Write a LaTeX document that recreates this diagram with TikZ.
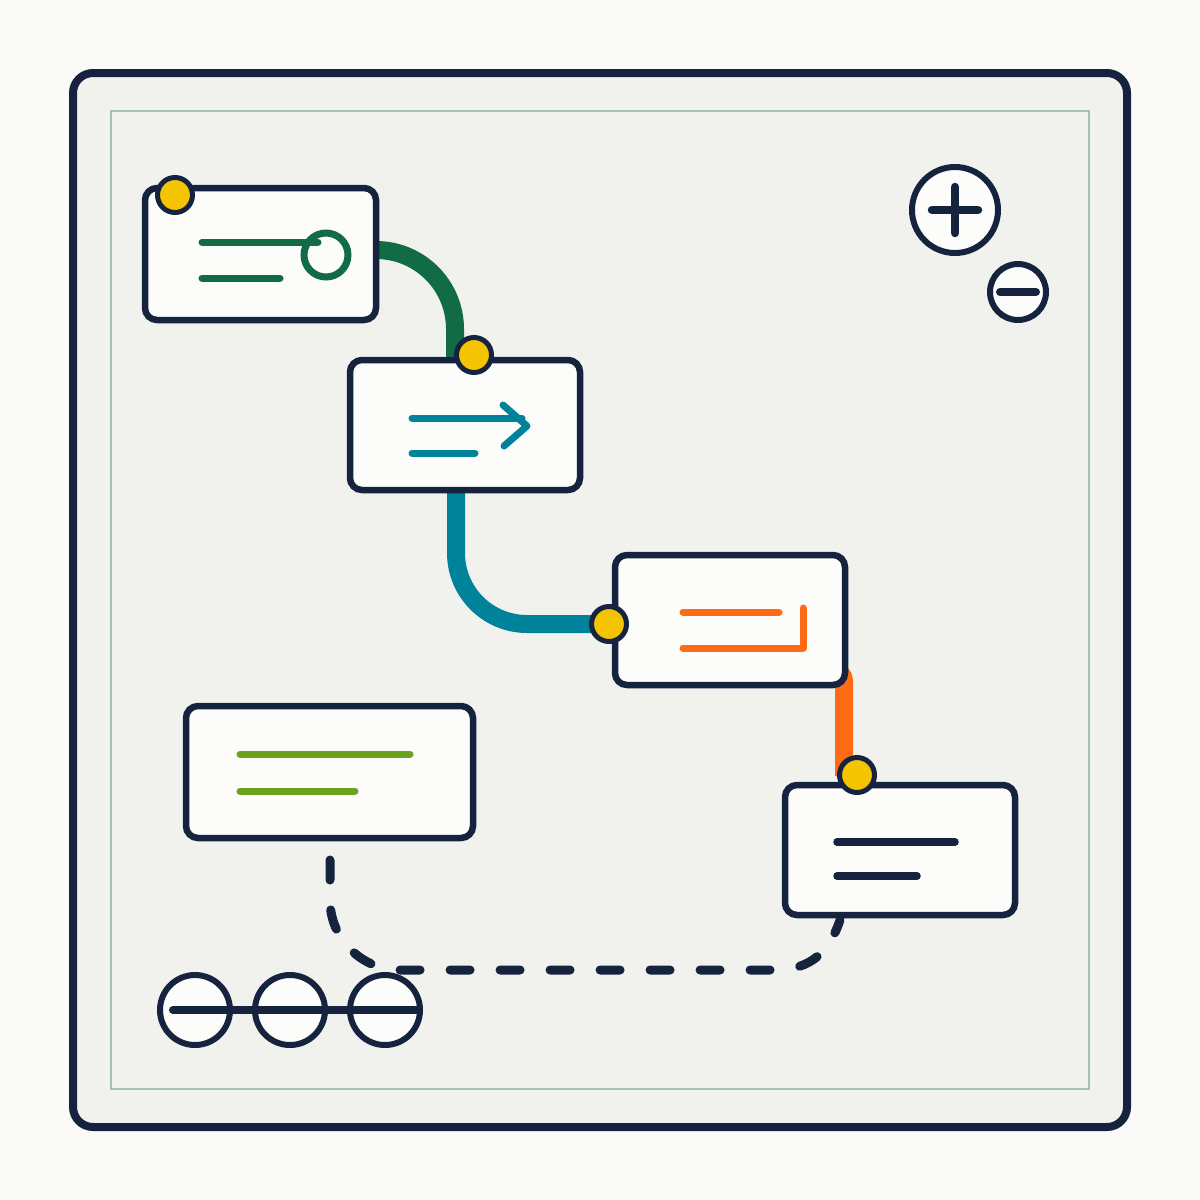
\documentclass[tikz,border=0pt]{standalone}
\definecolor{navy}{HTML}{16233F}
\definecolor{dkgreen}{HTML}{116B45}
\definecolor{teal}{HTML}{00829A}
\definecolor{orng}{HTML}{FF6B14}
\definecolor{yell}{HTML}{F5C400}
\definecolor{lime}{HTML}{6AA21E}
\definecolor{boxfill}{HTML}{FCFCFA}
\definecolor{framefill}{HTML}{F1F2EE}
\definecolor{bgcol}{HTML}{FAFAF8}
\definecolor{innerline}{HTML}{A9BFB1}
\begin{document}
\begin{tikzpicture}[x=0.5pt,y=-0.5pt,
  box/.style={draw=navy, line width=3.25pt, fill=boxfill, rounded corners=6pt, inner sep=0pt, minimum width=115pt, minimum height=65pt},
  dot/.style={circle, draw=navy, line width=2.5pt, fill=yell, minimum size=17.5pt, inner sep=0pt},
  conn/.style={line width=9pt},
  glyph/.style={line width=3.5pt, line cap=round},
  ring/.style={circle, draw=navy, line width=3pt, fill=boxfill, inner sep=0pt}]
\fill[bgcol] (0,0) rectangle (1200,1200);
\useasboundingbox (0,0) rectangle (1200,1200);
\draw[navy, line width=4pt, fill=framefill, rounded corners=10pt] (73,73) rectangle (1127,1127);
\draw[innerline, line width=1.25pt] (111,111) rectangle (1089,1089);
% connector end points
\coordinate (g1) at (370,250);
\coordinate (g2) at (455,360);
\coordinate (t1) at (456,485);
\coordinate (t2) at (610,624);
\coordinate (o1) at (826,668);
\coordinate (o2) at (844,776);
\coordinate (k1) at (330,860);
\coordinate (k2) at (840,920);
% connectors
\draw[dkgreen, conn, rounded corners=39.5pt] (g1) -| (g2);
\draw[teal, conn, rounded corners=35.5pt] (t1) |- (t2);
\draw[orng, conn, rounded corners=7pt] (o1) -| (o2);
\draw[navy, line width=4.5pt, line cap=round, dash pattern=on 10pt off 15pt]
  (k1) -- (330,900) .. controls (330,938.6) and (361.4,970) .. (400,970)
  -- (775,970) .. controls (812,970) and (830,950) .. (k2);
% boxes
\node[box, minimum width=115.5pt, minimum height=66pt] (n1) at (260.5,254) {};
\node[box] (n2) at (465,425) {};
\node[box] (n3) at (730,620) {};
\node[box] (n4) at (900,850) {};
\node[box, minimum width=143.5pt, minimum height=66pt] (n5) at (329.5,772) {};
% glyphs in boxes
\draw[dkgreen, line width=3.5pt] (326,255) circle[radius=11pt];
\draw[dkgreen, glyph] (202,242) -- (318,242);
\draw[dkgreen, glyph] (202,278) -- (280,278);
\draw[teal, glyph] (412,418) -- (522,418);
\draw[teal, glyph, line join=round] (503,405) -- (527,426) -- (504,446);
\draw[teal, glyph] (412,453) -- (475,453);
\draw[orng, glyph] (683,612) -- (779,612);
\draw[orng, glyph, line join=round] (683,648) -- (803,648) -- (803,608);
\draw[lime, glyph] (240,754) -- (410,754);
\draw[lime, glyph] (240,791) -- (355,791);
\draw[navy, glyph, line width=3.75pt] (837,842) -- (955,842);
\draw[navy, glyph, line width=3.75pt] (837,876) -- (917,876);
% yellow dots
\node[dot] (d1) at (175,195) {};
\node[dot] (d2) at (474,355) {};
\node[dot] (d3) at (609,624) {};
\node[dot] (d4) at (857,775) {};
% zoom controls
\node[ring, minimum size=43pt] (zin) at (955,210) {};
\draw[navy, line width=4.25pt, line cap=round] (932,210) -- (978,210) (955,187) -- (955,233);
\node[ring, minimum size=28pt] (zout) at (1018,292) {};
\draw[navy, line width=4pt, line cap=round] (1000,292) -- (1036,292);
% bottom-left circles
\node[ring, minimum size=35pt] (c1) at (195,1010) {};
\node[ring, minimum size=35pt] (c2) at (290,1010) {};
\node[ring, minimum size=35pt] (c3) at (385,1010) {};
\draw[navy, line width=4pt, line cap=round] (173,1010) -- (418,1010);
\end{tikzpicture}
\end{document}
